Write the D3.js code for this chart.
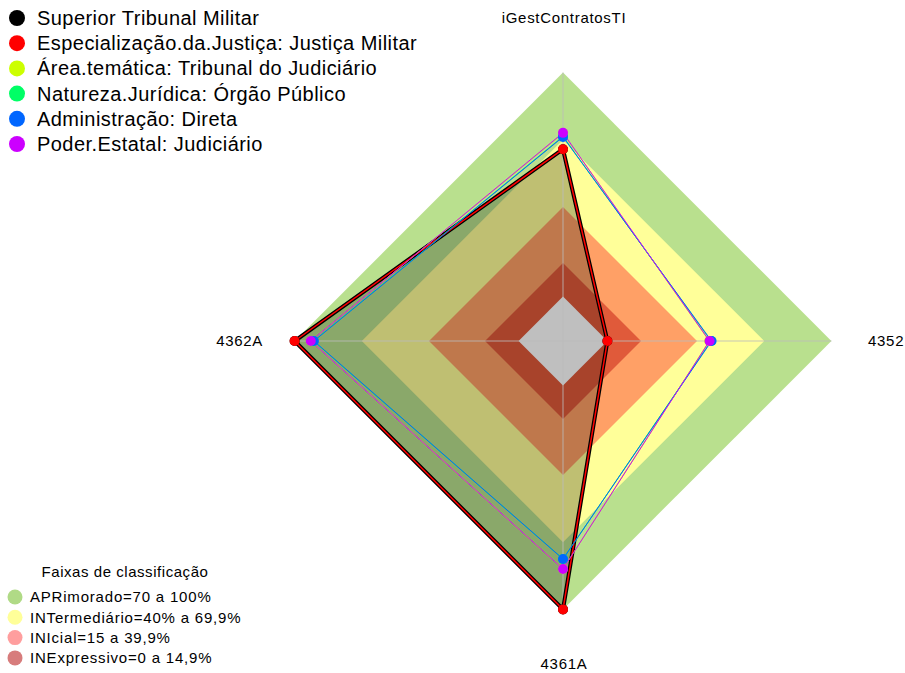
<!DOCTYPE html>
<html>
<head>
<meta charset="utf-8">
<script src="https://cdn.jsdelivr.net/npm/d3@7"></script>
<style>
  body { margin: 0; background: #fff; }
  text { font-family: "Liberation Sans", Arial, sans-serif; fill: #000; }
</style>
</head>
<body>
<div id="chart"></div>
<script>

// axes, counter-clockwise from the top
var axes = ["iGestContratosTI", "4362A", "4361A", "4352"];

var seriesNames = [
    "Superior Tribunal Militar",
    "Especialização.da.Justiça: Justiça Militar",
    "Área.temática: Tribunal do Judiciário",
    "Natureza.Jurídica: Órgão Público",
    "Administração: Direta",
    "Poder.Estatal: Judiciário"
];
var seriesColors = ["#000000", "#ff0000", "#ccff00", "#00ff66", "#0066ff", "#cc00ff"];

var stm        = [65.8, 100, 100, 0];
var justMilitar = [65.8, 100, 100, 0];
var areaTematica = [73.0, 92.8, 82.0, 45.5];
var natureza   = [71.5, 91.5, 77.5, 46.3];
var administracao = [71.3, 91.4, 77.5, 46.5];
var poder      = [73.1, 92.8, 82.0, 45.6];
var seriesValues = [stm, justMilitar, areaTematica, natureza, administracao, poder];

// classification bands (upper limit of each band)
var bandNames = ["APRimorado=70 a 100%", "INTermediário=40% a 69,9%", "INIcial=15 a 39,9%", "INExpressivo=0 a 14,9%"];
var bandTops = [100, 70, 40, 15];
var bandColors = ["#b9e08e", "#ffff99", "#ffa066", "#e05a3a"];
var bandLegendColors = ["#b0da86", "#ffff99", "#ff9e9e", "#d77c7c"];

var width = 905, height = 673,
    cx = 563, cy = 341;

var rScale = d3.scaleLinear().domain([0, 100]).range([44.4, 268.4]);

function angle(i) { return -Math.PI / 2 - i * Math.PI / 2; }
function px(v, i) { return cx + rScale(v) * Math.cos(angle(i)); }
function py(v, i) { return cy + rScale(v) * Math.sin(angle(i)); }

var poly = d3.line()
    .x(function (d, i) { return px(d, i); })
    .y(function (d, i) { return py(d, i); })
    .curve(d3.curveLinearClosed);

var svg = d3.select("#chart").append("svg")
    .attr("width", width)
    .attr("height", height);

// bands as stacked diamonds, white centre
var g = svg.append("g");
g.selectAll(".band")
    .data(bandTops)
    .enter().append("path")
    .attr("class", "band")
    .attr("d", function (t) { return poly(axes.map(function () { return t; })); })
    .attr("fill", function (t, i) { return bandColors[i]; });
g.append("path")
    .attr("d", poly(axes.map(function () { return 0; })))
    .attr("fill", "#ffffff");

// filled polygon of the first series
g.append("path")
    .attr("d", poly(stm))
    .attr("fill", "rgba(0,0,0,0.25)");

// axis lines
g.selectAll(".axisline")
    .data(axes)
    .enter().append("line")
    .attr("x1", cx).attr("y1", cy)
    .attr("x2", function (d, i) { return px(100, i); })
    .attr("y2", function (d, i) { return py(100, i); })
    .attr("stroke", "#bbbbbb")
    .attr("stroke-opacity", 0.55)
    .attr("stroke-width", 1.5);

// series lines
g.selectAll(".serie")
    .data(seriesValues)
    .enter().append("path")
    .attr("class", "serie")
    .attr("d", poly)
    .attr("fill", "none")
    .attr("stroke", function (d, i) { return seriesColors[i]; })
    .attr("stroke-width", function (d, i) { return i === 0 ? 4 : (i === 1 ? 1.5 : 1); })
    .attr("stroke-linejoin", "miter");

// series points
seriesValues.forEach(function (vals, s) {
    g.selectAll(".pt" + s)
        .data(vals)
        .enter().append("circle")
        .attr("cx", function (d, i) { return px(d, i); })
        .attr("cy", function (d, i) { return py(d, i); })
        .attr("r", 5)
        .attr("fill", seriesColors[s]);
});

// axis labels
var labelPos = [
    {x: cx + 1, y: 18, anchor: "middle"},
    {x: 263, y: 341, anchor: "end"},
    {x: cx + 1, y: 664, anchor: "middle"},
    {x: 868, y: 341, anchor: "start"}
];
g.selectAll(".axlabel")
    .data(axes)
    .enter().append("text")
    .attr("x", function (d, i) { return labelPos[i].x; })
    .attr("y", function (d, i) { return labelPos[i].y; })
    .attr("dy", ".35em")
    .attr("text-anchor", function (d, i) { return labelPos[i].anchor; })
    .style("font-size", "15px")
    .style("letter-spacing", "0.7px")
    .text(function (d) { return d; });

// series legend
var leg = svg.append("g").selectAll("g")
    .data(seriesNames)
    .enter().append("g")
    .attr("transform", function (d, i) { return "translate(0," + (18 + i * 25.2) + ")"; });
leg.append("circle")
    .attr("cx", 17).attr("cy", 0).attr("r", 8)
    .attr("fill", function (d, i) { return seriesColors[i]; });
leg.append("text")
    .attr("x", 37).attr("dy", ".35em")
    .style("font-size", "20px")
    .style("letter-spacing", "0.45px")
    .text(function (d) { return d; });

// bands legend
svg.append("text")
    .attr("x", 125).attr("y", 572).attr("dy", ".35em")
    .attr("text-anchor", "middle")
    .style("font-size", "15px")
    .style("letter-spacing", "0.55px")
    .text("Faixas de classificação");
var bleg = svg.append("g").selectAll("g")
    .data(bandNames)
    .enter().append("g")
    .attr("transform", function (d, i) { return "translate(0," + (597 + i * 20.3) + ")"; });
bleg.append("circle")
    .attr("cx", 15).attr("cy", 0).attr("r", 7.5)
    .attr("fill", function (d, i) { return bandLegendColors[i]; });
bleg.append("text")
    .attr("x", 30).attr("dy", ".35em")
    .style("font-size", "15px")
    .style("letter-spacing", "0.8px")
    .text(function (d) { return d; });

</script>
</body>
</html>
